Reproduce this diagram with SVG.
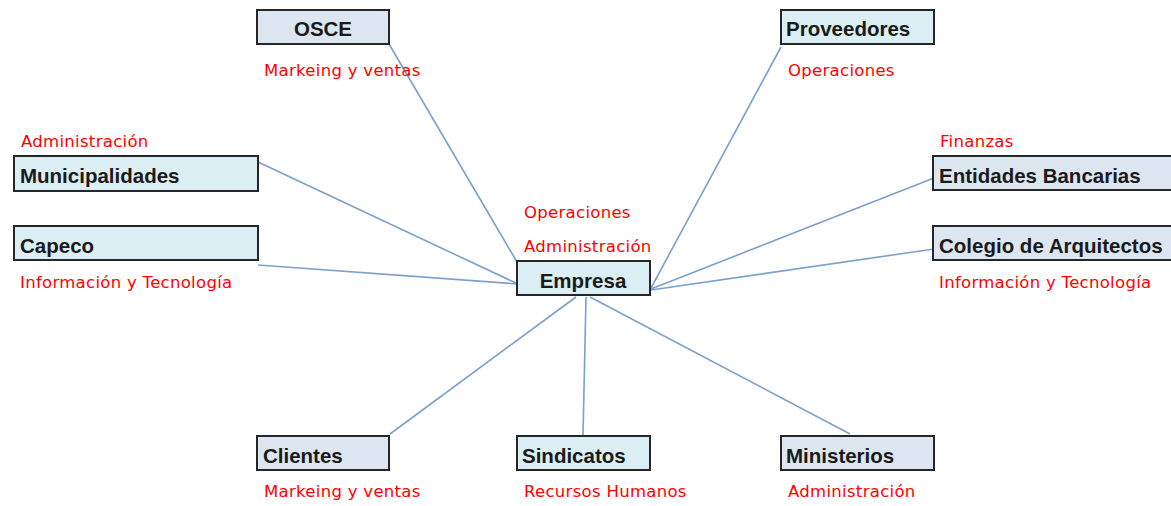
<svg xmlns="http://www.w3.org/2000/svg" width="1171" height="506" viewBox="0 0 1171 506">
<style>
.box{stroke:#262626;stroke-width:2}
.b1{fill:#dce6f1}
.b2{fill:#dbeef3}
.t{font-family:"Liberation Sans",Arial,sans-serif;font-weight:bold;font-size:20.5px;fill:#1a1a1a}
.r{font-family:"DejaVu Sans","Liberation Sans",sans-serif;font-size:16.5px;letter-spacing:0.3px;fill:#ff0000}
.c{stroke:#7ba0cd;stroke-width:1.6;fill:none}
</style>
<rect width="1171" height="506" fill="#ffffff"/>
<g id="connectors">
<line class="c" x1="389" y1="44" x2="517" y2="262"/>
<line class="c" x1="258" y1="162" x2="518" y2="284"/>
<line class="c" x1="258" y1="265" x2="518" y2="284"/>
<line class="c" x1="781" y1="47" x2="651" y2="288"/>
<line class="c" x1="934" y1="178" x2="651" y2="289"/>
<line class="c" x1="934" y1="249" x2="651" y2="290"/>
<line class="c" x1="390" y1="434" x2="576" y2="297"/>
<line class="c" x1="583" y1="436" x2="586" y2="297"/>
<line class="c" x1="850" y1="434" x2="590" y2="297"/>
</g>
<g id="osce">
<rect class="box b1" x="257" y="10" width="132" height="34"/>
<text class="t" x="323" y="36" text-anchor="middle">OSCE</text>
<text class="r" x="264" y="76">Markeing y ventas</text>
</g>
<g id="proveedores">
<rect class="box b2" x="781" y="10" width="153" height="34"/>
<text class="t" x="786" y="36">Proveedores</text>
<text class="r" x="788" y="76">Operaciones</text>
</g>
<g id="municipalidades">
<rect class="box b2" x="14" y="156" width="244" height="35"/>
<text class="t" x="20" y="183">Municipalidades</text>
<text class="r" x="21" y="147">Administración</text>
</g>
<g id="capeco">
<rect class="box b2" x="14" y="226" width="244" height="34"/>
<text class="t" x="20" y="253">Capeco</text>
<text class="r" x="20" y="288">Información y Tecnología</text>
</g>
<g id="empresa">
<text class="r" x="524" y="218">Operaciones</text>
<text class="r" x="524" y="252">Administración</text>
<rect class="box b2" x="517" y="261" width="133" height="34"/>
<text class="t" x="583" y="288" text-anchor="middle">Empresa</text>
</g>
<g id="entidades">
<rect class="box b1" x="933" y="156" width="240" height="34"/>
<text class="t" x="939" y="183">Entidades Bancarias</text>
<text class="r" x="940" y="147">Finanzas</text>
</g>
<g id="colegio">
<rect class="box b1" x="933" y="226" width="240" height="34"/>
<text class="t" x="939" y="253">Colegio de Arquitectos</text>
<text class="r" x="939" y="288">Información y Tecnología</text>
</g>
<g id="clientes">
<rect class="box b1" x="257" y="436" width="132" height="34"/>
<text class="t" x="263" y="463">Clientes</text>
<text class="r" x="264" y="497">Markeing y ventas</text>
</g>
<g id="sindicatos">
<rect class="box b2" x="517" y="436" width="133" height="34"/>
<text class="t" x="522" y="463">Sindicatos</text>
<text class="r" x="524" y="497">Recursos Humanos</text>
</g>
<g id="ministerios">
<rect class="box b1" x="781" y="436" width="153" height="34"/>
<text class="t" x="786" y="463">Ministerios</text>
<text class="r" x="788" y="497">Administración</text>
</g>
</svg>
